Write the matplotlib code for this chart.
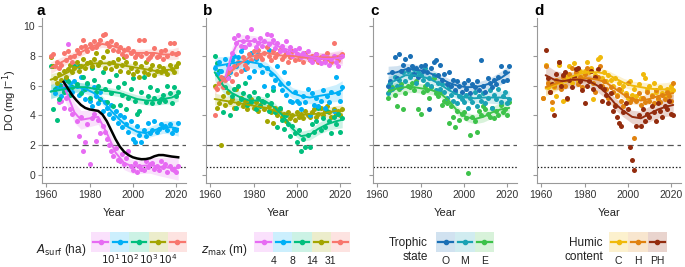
import numpy as np
import matplotlib
matplotlib.use("Agg")
import matplotlib.pyplot as plt
from matplotlib.patches import Rectangle

plt.rcParams['font.family'] = ['Liberation Sans', 'DejaVu Sans']

# ---- data -------------------------------------------------------------
KNOTS = [1962, 1966, 1970, 1974, 1978, 1982, 1986, 1990, 1994, 1998, 2002, 2006, 2010, 2014, 2018, 2021]
C_KNOTS = [1965, 1969, 1973, 1977, 1981, 1985, 1989, 1993, 1997, 2001, 2005, 2009, 2013, 2017, 2021]
MAG_A_KNOTS = [1968, 1970, 1973, 1976, 1980, 1984, 1988, 1992, 1996, 2000, 2004, 2008, 2012, 2016, 2021]
MAG_B_KNOTS = [1967, 1970, 1973, 1976, 1980, 1984, 1988, 1992, 1996, 2000, 2004, 2008, 2012, 2016, 2021]

YEARS_62 = list(range(1962, 2022))
YEARS_64 = list(range(1964, 2022))
YEARS_65 = list(range(1965, 2022))
YEARS_66 = list(range(1966, 2022))
YEARS_68 = list(range(1968, 2022))
YEARS_61 = list(range(1961, 2022))

# panel a: lake surface area classes
a_red_pts = [8.0, 8.1, 7.3, 7.6, 7.2, 7.4, 8.2, 7.7, 8.3, 7.9, 7.6, 8.0, 8.4, 8.2, 8.6, 9.1, 8.7, 8.3, 8.8, 8.5,
             9.0, 8.6, 8.8, 9.1, 9.4, 9.5, 8.9, 8.7, 9.0, 8.4, 8.8, 8.3, 8.6, 8.1, 8.4, 8.0, 8.5, 8.2, 8.3, 7.9,
             8.1, 9.1, 8.0, 9.1, 8.2, 7.8, 7.9, 8.1, 8.5, 7.9, 8.0, 8.3, 7.8, 8.4, 8.0, 8.9, 8.2, 8.9, 8.1, 8.2]
a_olive_pts = [7.9, 7.3, 6.5, 6.2, 6.8, 6.4, 7.0, 6.6, 7.1, 7.4, 6.9, 7.2, 7.6, 7.0, 7.3, 7.8, 7.2, 7.5, 7.6, 7.3,
               7.8, 8.2, 7.4, 7.6, 7.9, 7.2, 8.3, 7.5, 7.1, 7.6, 7.3, 7.8, 7.0, 7.4, 7.9, 7.6, 6.9, 7.2, 6.8, 7.5,
               7.0, 6.6, 7.3, 6.9, 7.6, 6.8, 7.1, 7.4, 6.7, 7.0, 7.3, 6.9, 7.2, 7.0, 6.8, 7.4, 7.1, 6.9, 7.3, 7.5]
a_green_pts = [7.3, 4.4, 5.8, 3.7, 5.1, 6.0, 5.6, 6.5, 6.3, 5.4, 5.9, 7.3, 6.1, 7.3, 5.5, 6.6, 5.8, 6.2, 5.2, 7.2,
               6.4, 5.6, 6.0, 5.1, 6.9, 5.8, 4.9, 6.3, 5.5, 4.6, 6.7, 5.9, 4.7, 5.4, 6.2, 4.4, 5.2, 5.8, 6.5, 5.0,
               4.1, 4.3, 5.6, 6.6, 4.9, 5.3, 5.9, 4.8, 5.2, 5.7, 4.9, 5.1, 5.4, 5.0, 6.0, 5.5, 4.8, 5.9, 5.3, 5.6]
a_blue_pts = [5.5, 5.9, 6.1, 5.3, 5.7, 6.4, 5.8, 6.2, 5.6, 6.3, 6.0, 5.4, 6.6, 5.7, 5.1, 6.1, 5.0, 4.6, 5.9, 5.3,
              4.8, 5.6, 4.3, 4.9, 4.5, 4.1, 4.7, 3.8, 4.3, 3.5, 4.0, 3.2, 3.9, 3.4, 2.9, 3.6, 2.4, 2.2, 3.3, 2.7,
              2.2, 3.0, 2.6, 3.5, 2.8, 3.0, 3.6, 2.9, 3.1, 3.4, 3.2, 3.3, 3.0, 3.4, 2.8, 3.1, 3.0, 3.5]
a_mag_pts = [4.9, 5.0, 4.5, 5.2, 8.8, 4.4, 4.1, 7.4, 3.6, 2.6, 3.9, 1.6, 2.2, 3.4, 0.7, 3.8, 4.1, 2.3, 3.7, 2.8,
             3.3, 2.9, 2.4, 2.0, 1.6, 1.3, 1.8, 1.0, 0.9, 1.4, 0.7, 1.1, 1.6, 0.6, 0.3, 0.8, 0.2, 0.6, 0.4, 0.3,
             0.9, 0.5, 0.7, 0.8, 0.4, 0.6, 0.3, 0.9, 0.5, 0.7, 0.2, 0.6, 0.4, 0.3, 0.2, 0.6]
a_red_fit = [7.2, 7.5, 7.8, 8.1, 8.4, 8.7, 8.8, 8.7, 8.5, 8.3, 8.2, 8.2, 8.2, 8.1, 8.1, 8.2]
a_olive_fit = [6.4, 6.6, 6.9, 7.2, 7.4, 7.5, 7.5, 7.5, 7.4, 7.3, 7.2, 7.1, 7.0, 7.0, 7.1, 7.2]
a_green_fit = [5.6, 5.7, 5.8, 5.9, 5.9, 5.8, 5.7, 5.6, 5.5, 5.3, 5.1, 5.0, 5.0, 5.1, 5.2, 5.4]
a_blue_fit = [5.6, 5.8, 5.9, 5.9, 5.8, 5.5, 5.0, 4.3, 3.7, 3.2, 2.9, 2.8, 3.0, 3.2, 3.2, 3.1]
a_mag_fit = [6.0, 5.3, 4.2, 3.7, 3.8, 3.9, 2.8, 1.5, 0.8, 0.55, 0.6, 0.65, 0.55, 0.5, 0.45]
BLACK_YEARS = [1968, 1970, 1972, 1974, 1976, 1978, 1980, 1982, 1984, 1986, 1988, 1990, 1992, 1994, 1996, 1998,
               2000, 2002, 2004, 2006, 2008, 2010, 2012, 2014, 2016, 2018, 2021]
black_do = [6.25, 5.8, 5.35, 5.0, 4.7, 4.5, 4.4, 4.35, 4.3, 4.05, 3.6, 3.0, 2.4, 1.9, 1.55, 1.33,
            1.18, 1.1, 1.05, 1.06, 1.12, 1.25, 1.33, 1.33, 1.28, 1.23, 1.18]

# panel b: maximum depth classes
b_mag_pts = [6.5, 7.2, 8.2, 9.2, 8.9, 9.4, 8.7, 9.0, 8.6, 9.3, 8.8, 9.8, 9.1, 8.6, 8.9, 9.2, 8.7, 9.0, 9.5, 8.8,
             9.4, 9.1, 8.5, 8.9, 8.3, 8.7, 8.4, 9.0, 8.2, 8.6, 8.0, 8.4, 8.1, 8.5, 7.9, 8.2, 8.0, 8.3, 7.8, 7.6,
             7.9, 8.1, 7.7, 7.5, 8.0, 7.6, 7.9, 7.4, 7.8, 8.0, 7.6, 7.3, 7.9, 8.0]
b_red_pts = [4.0, 5.8, 6.2, 6.6, 5.9, 6.4, 6.9, 7.1, 6.3, 7.3, 6.8, 7.6, 7.0, 7.9, 7.4, 7.2, 8.1, 7.7, 8.3, 7.9,
             8.4, 8.0, 7.8, 8.2, 8.6, 8.0, 7.7, 8.3, 7.9, 8.1, 8.4, 7.8, 8.0, 8.2, 7.6, 7.9, 8.3, 7.7, 8.1, 7.8,
             8.0, 7.6, 8.2, 7.9, 7.7, 8.0, 7.8, 8.1, 7.6, 7.9, 8.0, 7.7, 8.2, 7.8, 7.6, 8.9, 7.9, 7.7, 8.0, 8.1]
b_blue_pts = [7.2, 6.8, 7.6, 7.0, 6.5, 7.8, 7.4, 6.9, 7.7, 8.0, 7.3, 7.9, 8.3, 8.6, 7.1, 7.6, 6.6, 8.2, 7.0, 7.8,
              8.1, 7.4, 6.9, 6.0, 7.2, 8.4, 6.8, 5.9, 6.4, 7.3, 6.1, 5.7, 6.9, 5.4, 6.2, 5.0, 4.9, 5.6, 5.0, 4.8,
              4.4, 5.3, 4.9, 5.8, 4.0, 5.5, 4.7, 5.2, 4.6, 5.0, 5.7, 4.5, 5.3, 4.9, 5.6, 4.3, 6.6, 5.5, 5.0, 5.9]
b_green_pts = [8.0, 7.5, 7.0, 6.4, 4.2, 5.9, 6.6, 4.0, 5.3, 5.8, 4.5, 6.0, 5.1, 5.5, 6.2, 4.7, 5.3, 4.9, 5.6, 4.4,
               5.2, 4.6, 5.0, 4.9, 5.4, 4.3, 4.8, 5.7, 4.2, 3.2, 4.5, 3.7, 3.1, 4.0, 3.4, 2.6, 3.3, 2.8, 2.2, 3.0,
               1.6, 2.4, 1.9, 2.7, 1.9, 3.4, 2.9, 3.6, 4.5, 3.0, 3.8, 3.2, 4.3, 3.6, 2.8, 3.9, 3.4, 4.1, 2.9, 3.8]
b_olive_pts = [6.0, 4.5, 4.8, 2.0, 5.3, 4.7, 5.6, 4.9, 5.1, 4.5, 5.8, 4.8, 5.2, 4.6, 5.0, 4.4, 4.8, 5.1, 4.5, 4.9,
               4.3, 4.7, 5.0, 4.4, 3.6, 4.6, 4.2, 3.5, 4.5, 4.0, 4.4, 3.9, 4.1, 3.6, 4.2, 3.8, 4.0, 3.7, 4.2, 3.9,
               4.1, 3.8, 4.3, 4.0, 3.9, 4.2, 4.4, 3.9, 4.1, 4.5, 4.0, 4.3, 4.6, 4.2, 3.9, 4.4, 4.1, 4.3, 4.0, 4.4]
b_mag_fit = [6.6, 8.1, 9.0, 9.0, 9.0, 8.9, 8.9, 8.6, 8.4, 8.2, 8.0, 7.9, 7.8, 7.8, 7.9]
b_red_fit = [5.8, 6.4, 7.0, 7.5, 7.9, 8.1, 8.2, 8.1, 8.0, 8.0, 7.9, 7.9, 7.9, 7.9, 7.9, 7.9]
b_blue_fit = [7.3, 7.4, 7.5, 7.6, 7.6, 7.5, 7.2, 6.7, 6.0, 5.5, 5.3, 5.2, 5.3, 5.4, 5.5, 5.7]
b_green_fit = [6.9, 6.0, 5.5, 5.2, 5.0, 5.0, 4.9, 4.5, 3.9, 3.1, 2.6, 2.7, 3.1, 3.4, 3.6, 3.7]
b_olive_fit = [5.1, 5.0, 4.9, 4.8, 4.7, 4.6, 4.5, 4.3, 4.1, 4.0, 4.0, 4.1, 4.1, 4.2, 4.3, 4.3]

# panel c: trophic state
c_o_pts = [6.0, 6.3, 6.9, 7.9, 6.5, 8.1, 7.0, 7.4, 7.8, 7.1, 8.0, 7.3, 6.8, 7.2, 6.6, 7.3, 7.0, 7.4, 6.9, 4.4,
           7.2, 7.6, 7.7, 6.7, 7.4, 6.4, 6.8, 6.1, 6.9, 6.0, 6.4, 5.7, 6.3, 6.0, 5.6, 6.2, 5.8, 6.4, 5.5, 6.1,
           5.9, 6.3, 5.7, 7.7, 6.0, 5.6, 6.5, 6.2, 5.9, 6.4, 6.1, 6.6, 7.3, 6.3, 6.9, 6.4, 7.3]
c_m_pts = [5.5, 6.2, 5.8, 6.6, 6.0, 6.4, 5.9, 6.9, 6.3, 7.0, 6.6, 6.8, 7.1, 6.2, 6.9, 6.7, 6.4, 7.2, 6.1, 6.5,
           6.0, 6.7, 5.7, 6.2, 5.8, 6.1, 5.6, 5.2, 5.9, 5.4, 5.0, 5.6, 4.8, 5.3, 5.1, 4.9, 5.4, 4.5, 5.2, 4.9,
           5.6, 4.6, 5.3, 5.0, 5.5, 4.8, 5.2, 5.7, 4.5, 5.4, 5.1, 5.8, 4.9, 5.3, 5.6, 4.8, 5.1]
c_e_pts = [5.2, 5.7, 5.9, 5.4, 4.6, 5.8, 6.1, 4.4, 5.5, 6.0, 5.9, 6.2, 5.7, 6.3, 4.4, 4.1, 5.6, 6.0, 5.7, 5.2,
           5.9, 6.5, 5.5, 5.3, 5.6, 4.7, 5.0, 4.8, 3.5, 4.6, 3.9, 3.2, 4.3, 3.7, 4.1, 4.2, 3.8, 0.1, 2.7, 3.9,
           3.6, 2.9, 4.3, 4.0, 4.6, 4.4, 4.1, 3.9, 4.5, 3.8, 4.3, 4.0, 4.7, 4.2, 4.4, 4.0, 4.9]
c_o_fit = [6.8, 6.9, 7.1, 7.1, 7.0, 6.8, 6.5, 6.2, 6.0, 5.9, 5.9, 6.0, 6.2, 6.5, 6.9]
c_m_fit = [6.1, 6.4, 6.7, 6.7, 6.6, 6.4, 6.1, 5.7, 5.4, 5.2, 5.15, 5.2, 5.2, 5.2, 5.15]
c_e_fit = [5.6, 5.8, 5.9, 5.9, 5.8, 5.7, 5.5, 5.0, 4.3, 3.9, 3.75, 3.9, 4.2, 4.4, 4.5]

# panel d: humic content
d_c_pts = [5.2, 7.4, 5.9, 5.6, 4.4, 5.9, 5.3, 7.4, 6.1, 5.0, 6.4, 6.7, 7.3, 6.2, 7.5, 6.8, 6.3, 7.0, 6.6, 7.0,
           7.6, 6.9, 7.2, 5.1, 6.7, 7.8, 7.9, 6.5, 6.9, 6.3, 6.7, 6.4, 6.0, 6.5, 5.4, 6.2, 5.7, 6.0, 5.5, 5.2,
           6.3, 5.4, 5.8, 5.3, 6.1, 5.2, 6.8, 6.5, 5.7, 6.0, 5.4, 6.2, 5.6, 5.1, 5.9, 5.5, 5.3, 5.8, 5.6, 6.0, 5.7]
d_h_pts = [5.2, 7.3, 6.2, 5.6, 4.9, 6.0, 6.4, 7.6, 5.8, 6.6, 6.0, 5.1, 6.8, 7.2, 6.5, 6.9, 6.1, 6.6, 5.9, 6.8,
           7.2, 6.4, 7.0, 6.2, 5.6, 6.6, 7.3, 6.0, 6.3, 5.8, 5.2, 5.9, 5.6, 4.7, 5.3, 5.8, 5.0, 4.6, 5.4, 6.2,
           4.9, 5.1, 2.5, 5.0, 5.5, 4.7, 5.2, 4.9, 5.6, 5.0, 5.3, 4.8, 5.7, 5.2, 4.9, 5.4, 5.1, 5.6, 5.3, 5.0, 6.2]
d_ph_pts = [8.4, 6.5, 5.6, 6.1, 4.0, 6.8, 7.6, 6.0, 6.7, 6.9, 5.2, 6.4, 5.9, 6.6, 7.1, 7.2, 6.3, 5.7, 4.8, 6.0,
            6.3, 7.0, 5.8, 6.6, 7.1, 6.0, 5.0, 5.8, 5.4, 4.8, 5.5, 4.3, 4.6, 3.9, 3.5, 3.3, 4.2, 4.8, 4.4, 1.9,
            1.0, 0.3, 3.3, 4.0, 3.3, 4.4, 3.6, 4.1, 3.9, 4.6, 4.2, 3.6, 4.8, 4.3, 3.9, 4.6, 4.4, 5.0, 4.1, 4.0]
d_c_fit = [5.8, 6.0, 6.3, 6.6, 6.8, 6.9, 6.9, 6.8, 6.5, 6.2, 6.0, 5.9, 5.8, 5.75, 5.75, 5.8]
d_h_fit = [5.9, 6.1, 6.3, 6.4, 6.5, 6.5, 6.4, 6.2, 5.8, 5.4, 5.1, 5.0, 5.1, 5.3, 5.4, 5.5]
d_ph_fit = [6.7, 6.4, 6.3, 6.4, 6.4, 6.3, 6.0, 5.5, 4.8, 4.3, 3.9, 3.8, 4.1, 4.4, 4.6, 4.7]

# colours and legend labels
HUE5 = ["#E76BF3", "#00B0F6", "#00BF7D", "#A3A500", "#F8766D"]
TROPHIC = ["#1A6FB5", "#1AA2B4", "#3DC24A"]
HUMIC = ["#F0B90B", "#E0820F", "#932C0E"]
a_leg_labels = ["$10^1$", "$10^2$", "$10^3$", "$10^4$"]
b_leg_labels = ["4", "8", "14", "31"]
c_leg_labels = ["O", "M", "E"]
d_leg_labels = ["C", "H", "PH"]

# ---- figure -----------------------------------------------------------
fig = plt.figure(figsize=(6.85, 2.67), dpi=100)
W, H = 685.0, 267.0
lefts = [42, 206, 373, 537]
axes = [fig.add_axes([l / W, 1 - 183 / H, 144 / W, 165 / H]) for l in lefts]


def series(ax, years, pts, kx, fit, color, hw):
    kx = np.array(kx, dtype=float)
    fit = np.array(fit, dtype=float)
    mid = (kx[0] + kx[-1]) / 2
    half = (kx[-1] - kx[0]) / 2
    w = hw * (1 + 0.8 * ((kx - mid) / half) ** 2)
    ax.fill_between(kx, fit - w, fit + w, color=color, alpha=0.2, lw=0, zorder=1)
    ax.scatter(years, pts, s=13, color=color, lw=0, zorder=2)
    ax.plot(kx, fit, color=color, lw=1.4, zorder=3, solid_capstyle='round')


ax = axes[0]
series(ax, YEARS_66, a_mag_pts, MAG_A_KNOTS, a_mag_fit, HUE5[0], 0.45)
series(ax, YEARS_64, a_blue_pts, KNOTS, a_blue_fit, HUE5[1], 0.28)
series(ax, YEARS_62, a_green_pts, KNOTS, a_green_fit, HUE5[2], 0.25)
series(ax, YEARS_62, a_olive_pts, KNOTS, a_olive_fit, HUE5[3], 0.22)
series(ax, YEARS_62, a_red_pts, KNOTS, a_red_fit, HUE5[4], 0.22)
ax.plot(BLACK_YEARS, black_do, color='black', lw=1.8, zorder=4)

ax = axes[1]
series(ax, YEARS_62, b_olive_pts, KNOTS, b_olive_fit, HUE5[3], 0.22)
series(ax, YEARS_62, b_green_pts, KNOTS, b_green_fit, HUE5[2], 0.3)
series(ax, YEARS_62, b_blue_pts, KNOTS, b_blue_fit, HUE5[1], 0.35)
series(ax, YEARS_62, b_red_pts, KNOTS, b_red_fit, HUE5[4], 0.22)
series(ax, YEARS_68, b_mag_pts, MAG_B_KNOTS, b_mag_fit, HUE5[0], 0.3)

ax = axes[2]
series(ax, YEARS_65, c_e_pts, C_KNOTS, c_e_fit, TROPHIC[2], 0.28)
series(ax, YEARS_65, c_m_pts, C_KNOTS, c_m_fit, TROPHIC[1], 0.28)
series(ax, YEARS_65, c_o_pts, C_KNOTS, c_o_fit, TROPHIC[0], 0.28)

ax = axes[3]
series(ax, YEARS_61, d_c_pts, KNOTS, d_c_fit, HUMIC[0], 0.28)
series(ax, YEARS_61, d_h_pts, KNOTS, d_h_fit, HUMIC[1], 0.28)
series(ax, YEARS_62, d_ph_pts, KNOTS, d_ph_fit, HUMIC[2], 0.4)

for i, (ax, letter) in enumerate(zip(axes, "abcd")):
    ax.axhline(2, color='#555555', lw=0.9, ls=(0, (5, 3)), zorder=0)
    ax.axhline(0.5, color='#222222', lw=0.9, ls=(0, (1.2, 1.5)), zorder=0)
    ax.set_xlim(1958, 2024.6)
    ax.set_ylim(-0.55, 10.55)
    ax.set_xticks([1960, 1980, 2000, 2020])
    ax.set_yticks([0, 2, 4, 6, 8, 10])
    for s in ['top', 'right']:
        ax.spines[s].set_visible(False)
    for s in ['left', 'bottom']:
        ax.spines[s].set_color('#999999')
        ax.spines[s].set_linewidth(0.8)
    ax.tick_params(colors='#999999', labelcolor='#333333', labelsize=7.5, length=3, width=0.8, pad=2)
    if i > 0:
        ax.tick_params(axis='y', labelleft=False)
    ax.set_xlabel("Year", fontsize=8, color='#222222', labelpad=6)
    ax.text(-0.04 if i == 0 else -0.02, 1.0, letter, transform=ax.transAxes, fontsize=11,
            fontweight='bold', va='bottom', ha='left')
axes[0].set_ylabel("DO (mg l$^{-1}$)", fontsize=8, color='#222222', labelpad=3)


def legend(x0, x1, colors, labels, title, title_x, boundaries):
    n = len(colors)
    lax = fig.add_axes([x0 / W, 1 - 252 / H, (x1 - x0) / W, 20 / H])
    lax.set_xlim(0, n)
    lax.set_ylim(0, 1)
    lax.axis('off')
    for k, c in enumerate(colors):
        lax.add_patch(Rectangle((k, 0), 1, 1, facecolor=c, alpha=0.2, lw=0))
        lax.plot([k + 0.12, k + 0.88], [0.5, 0.5], color=c, lw=1.6)
        lax.plot([k + 0.5], [0.5], 'o', color=c, ms=3)
    step = (x1 - x0) / n
    for k, lab in enumerate(labels):
        xp = x0 + step * (k + 1) if boundaries else x0 + step * (k + 0.5)
        fig.text(xp / W, 1 - 264 / H, lab, ha='center', va='baseline', fontsize=7.5, color='#222222')
    fig.text(title_x / W, 1 - 250 / H, title, ha='right', va='center', fontsize=8.5,
             color='#222222', linespacing=1.3)


legend(91, 187, HUE5, a_leg_labels, "$A_{\\mathrm{surf}}$ (ha)", 86, True)
legend(254, 350, HUE5, b_leg_labels, "$z_{\\mathrm{max}}$ (m)", 248, True)
legend(436, 494, TROPHIC, c_leg_labels, "Trophic\nstate", 428, False)
legend(609, 667, HUMIC, d_leg_labels, "Humic\ncontent", 603, False)

fig.savefig("out.png", dpi=100)
